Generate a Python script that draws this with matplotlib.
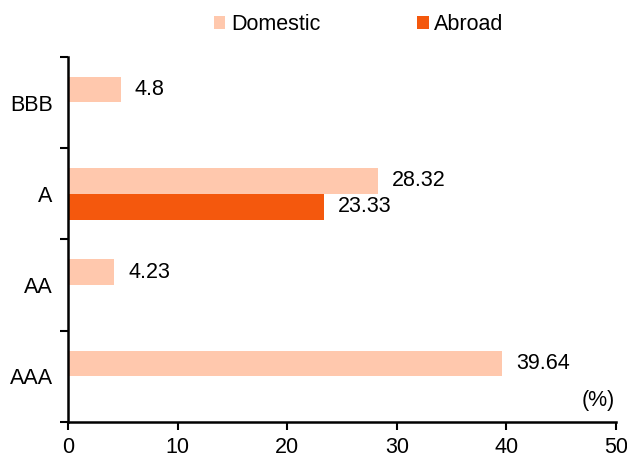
import numpy as np
import matplotlib
matplotlib.use("Agg")
import matplotlib.pyplot as plt

plt.rcParams["font.family"] = ["Liberation Sans", "DejaVu Sans"]

# data, bottom to top
categories = ["AAA", "AA", "A", "BBB"]
domestic = [39.64, 4.23, 28.32, 4.8]
abroad = [np.nan, np.nan, 23.33, np.nan]
series_names = ["Domestic", "Abroad"]
x_ticks = [0, 10, 20, 30, 40, 50]

domestic_color = "#FFC8AD"
abroad_color = "#F4580D"
fs = 15.5

fig = plt.figure(figsize=(6.27, 4.58), dpi=100)
ax = fig.add_axes([0.1085, 0.0786, 0.874, 0.797])

pos = np.arange(len(categories))
h = 0.28
b1 = ax.barh(pos + 0.143, domestic, height=h, color=domestic_color, label=series_names[0])
b2 = ax.barh(pos - 0.143, abroad, height=h, color=abroad_color, label=series_names[1])

ax.bar_label(b1, labels=[f"{v:g}" for v in domestic], padding=10, fontsize=fs)
ax.bar_label(b2, labels=["" if np.isnan(v) else f"{v:g}" for v in abroad],
             padding=10, fontsize=fs)

ax.set_xlim(0, 50)
ax.set_ylim(-0.5, len(categories) - 0.5)
ax.set_xticks(x_ticks)
ax.set_xticklabels([str(t) for t in x_ticks], fontsize=fs)
ax.set_yticks(np.arange(len(categories) + 1) - 0.5)
ax.set_yticklabels([])
ax.set_yticks(pos, minor=True)
ax.set_yticklabels(categories, minor=True, fontsize=fs)
ax.tick_params(axis="y", which="minor", length=0, pad=11)
ax.tick_params(axis="y", which="major", length=6, width=1.5)
ax.tick_params(axis="x", length=6, width=1.5, pad=5)

for side in ["top", "right"]:
    ax.spines[side].set_visible(False)
for side in ["left", "bottom"]:
    ax.spines[side].set_linewidth(1.8)

ax.text(0.997, 0.06, "(%)", transform=ax.transAxes, ha="right", va="center", fontsize=fs)

fig.legend(handles=[b1, b2], loc="center", bbox_to_anchor=(0.572, 0.947), ncol=2,
           frameon=False, fontsize=fs, handlelength=0.55, handleheight=0.55,
           handletextpad=0.25, columnspacing=4.5)

fig.savefig("out.png", dpi=100)
